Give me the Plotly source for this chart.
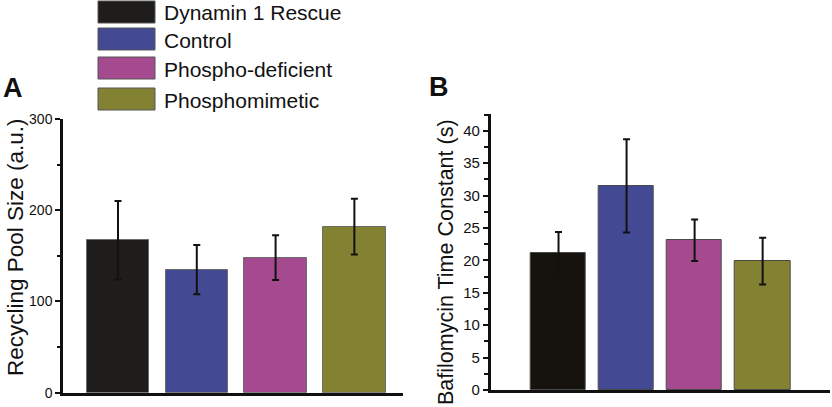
import plotly.graph_objects as go

categories = ["Dynamin 1 Rescue", "Control", "Phospho-deficient", "Phosphomimetic"]
colors = ["#1e1d1b", "#434a93", "#a64a8f", "#838232"]

pool_size = [167, 135, 148, 182]
pool_err = [43, 27, 24.5, 30.5]

tau = [21.1, 31.5, 23.1, 19.9]
tau_err = [3.3, 7.2, 3.2, 3.6]

W, H = 832, 407
FONT = "Liberation Sans"

def px(x):
    return x / W

def py(y):
    return (H - y) / H

fig = go.Figure()

fig.add_trace(go.Bar(
    x=categories, y=pool_size, xaxis="x", yaxis="y",
    marker=dict(color=colors, line=dict(color="#6b6b6b", width=1)),
    width=0.79,
    error_y=dict(type="data", array=pool_err, color="#111111", thickness=2, width=3.5),
    showlegend=False,
))
fig.add_trace(go.Bar(
    x=categories, y=tau, xaxis="x2", yaxis="y2",
    marker=dict(color=["#16130f"] + colors[1:], line=dict(color="#4a4a4a", width=1)),
    width=0.81,
    error_y=dict(type="data", array=tau_err, color="#111111", thickness=2, width=3.5),
    showlegend=False,
))

axis_common = dict(showgrid=False, zeroline=False, showline=True, linecolor="#111111",
                   automargin=False)

fig.update_layout(
    template="none",
    width=W, height=H, autosize=False,
    margin=dict(l=0, r=0, t=0, b=0, pad=0, autoexpand=False),
    paper_bgcolor="white", plot_bgcolor="white",
    font=dict(family=FONT, color="#111111"),
    bargap=0,
    xaxis=dict(domain=[px(63), px(403)], range=[-0.698, 3.617], showticklabels=False,
               ticks="", anchor="y", linewidth=2.5, **axis_common),
    yaxis=dict(domain=[py(392.7), py(119)], range=[0, 300], tickvals=[0, 100, 200, 300],
               ticks="outside", ticklen=5, tickwidth=2, tickcolor="#111111",
               minor=dict(tickvals=[50, 150, 250], ticks="outside", ticklen=3, tickwidth=2, tickcolor="#111111"),
               tickfont=dict(size=14, family=FONT), anchor="x", linewidth=2.5, **axis_common),
    xaxis2=dict(domain=[px(490.7), px(830)], range=[-0.997, 3.99], showticklabels=False,
                ticks="", anchor="y2", linewidth=2.5, **axis_common),
    yaxis2=dict(domain=[py(390), py(114)], range=[0, 42.6], tickvals=[0, 5, 10, 15, 20, 25, 30, 35, 40],
                ticks="outside", ticklen=5, tickwidth=2, tickcolor="#111111",
                minor=dict(dtick=2.5, tick0=0, ticks="outside", ticklen=4, tickwidth=2, tickcolor="#111111"),
                tickfont=dict(size=15, family=FONT), anchor="x2", linewidth=2.5, **axis_common),
)

annotations = [
    dict(text="Recycling Pool Size (a.u.)", x=px(15), y=py(247), textangle=-90,
         font=dict(size=22.5, family=FONT)),
    dict(text="Bafilomycin Time Constant (s)", x=px(446), y=py(262), textangle=-90,
         font=dict(size=21.5, family=FONT)),
    dict(text="<b>A</b>", x=px(13), y=py(88), font=dict(size=27, family=FONT)),
    dict(text="<b>B</b>", x=px(439), y=py(87), font=dict(size=27, family=FONT)),
]

legend_rows = [(1, 23), (28, 50), (57, 79), (88, 110)]
shapes = []
for name, col, (y0, y1) in zip(categories, colors, legend_rows):
    shapes.append(dict(type="rect", xref="paper", yref="paper",
                       x0=px(98), x1=px(155), y0=py(y1), y1=py(y0),
                       fillcolor=col, line=dict(color="#555555", width=1)))
    annotations.append(dict(text=name, x=px(162), y=py((y0 + y1) / 2 + 1), xanchor="left",
                            font=dict(size=21, family=FONT)))

for a in annotations:
    a.setdefault("xref", "paper")
    a.setdefault("yref", "paper")
    a.setdefault("showarrow", False)
    a.setdefault("xanchor", "center")
    a.setdefault("yanchor", "middle")

fig.update_layout(annotations=annotations, shapes=shapes)

fig.write_html("out.html", config={"displayModeBar": False},
               post_script="document.body.style.margin='0';document.body.style.overflow='hidden';")
